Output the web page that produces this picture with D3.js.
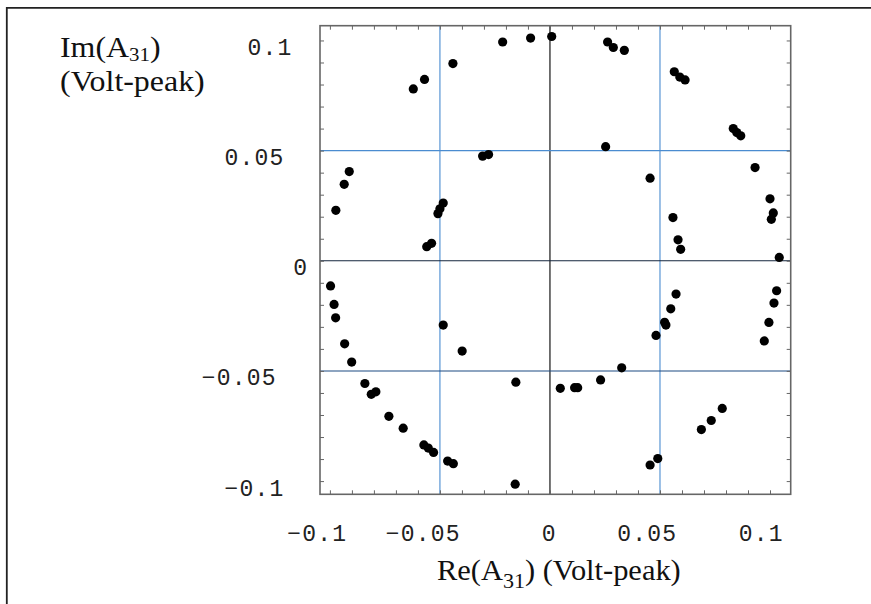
<!DOCTYPE html>
<html>
<head>
<meta charset="utf-8">
<script src="https://cdn.jsdelivr.net/npm/d3@7/dist/d3.min.js"></script>
<style>
  html, body { margin: 0; padding: 0; background: #fff; }
  svg { display: block; }
</style>
</head>
<body>
<script>
// ---------------- data ----------------
const reValues = [
  -0.0621, -0.0570, -0.0441, -0.0215, -0.0088, 0.0008, 0.0262, 0.0288, 0.0338,
  0.0565, 0.0590, 0.0614, 0.0833, 0.0849, 0.0867, 0.0253, 0.0932, 0.0455, 0.1000,
  -0.0912, -0.0935, -0.0306, -0.0279, -0.0973, -0.0485, -0.0500, -0.0509, -0.0560,
  -0.0538, 0.0559, 0.0582, 0.0594, 0.1015, 0.1006, 0.1042, -0.0997, -0.0981, -0.0974,
  -0.0933, -0.0901, -0.0485, -0.0399, 0.0573, 0.0549, 0.0521, 0.0527, 0.0482, 0.0326,
  0.1030, 0.1018, 0.0995, 0.0974, -0.0841, -0.0812, -0.0791, -0.0732, -0.0667, -0.0573,
  -0.0553, -0.0529, -0.0465, -0.0439, -0.0155, -0.0158, 0.0047, 0.0112, 0.0126, 0.0230,
  0.0455, 0.0490, 0.0688, 0.0733, 0.0783
];
const imValues = [
  0.0780, 0.0823, 0.0895, 0.0993, 0.1011, 0.1018, 0.0993, 0.0968, 0.0955,
  0.0858, 0.0834, 0.0821, 0.0600, 0.0582, 0.0567, 0.0518, 0.0423, 0.0375, 0.0281,
  0.0405, 0.0347, 0.0475, 0.0482, 0.0229, 0.0262, 0.0236, 0.0214, 0.0064,
  0.0079, 0.0196, 0.0095, 0.0052, 0.0217, 0.0188, 0.0015, -0.0114, -0.0198, -0.0259,
  -0.0377, -0.0460, -0.0292, -0.0410, -0.0151, -0.0218, -0.0279, -0.0292, -0.0339, -0.0486,
  -0.0136, -0.0192, -0.0280, -0.0364, -0.0557, -0.0606, -0.0595, -0.0706, -0.0760, -0.0836,
  -0.0850, -0.0870, -0.0909, -0.0921, -0.0551, -0.1014, -0.0579, -0.0576, -0.0576, -0.0541,
  -0.0927, -0.0898, -0.0766, -0.0725, -0.0670
];
const xExtent = [-0.1045, 0.1094];
const yExtent = [-0.1060, 0.1067];
const majorTicks = [-0.1, -0.05, 0, 0.05, 0.1];
const xTickLabels = ["−0.1", "−0.05", "0", "0.05", "0.1"];
const yTickLabels = ["−0.1", "−0.05", "0", "0.05", "0.1"];
const minorTicks = d3.range(-10, 11).map(i => i / 100);
const gridLines = [
  { axis: "x", value: -0.05, color: "#4a8cd0" },
  { axis: "x", value: 0.05, color: "#4a8cd0" },
  { axis: "x", value: 0, color: "#000000" },
  { axis: "y", value: 0.05, color: "#4a8cd0" },
  { axis: "y", value: 0, color: "#14263e" },
  { axis: "y", value: -0.05, color: "#1d4a82" }
];
const xTitle = { main: "Re(A", sub: "31", rest: ") (Volt-peak)" };
const yTitle = { main: "Im(A", sub: "31", rest: ")", line2: "(Volt-peak)" };

// ---------------- layout ----------------
const W = 871, H = 604;
const plot = { left: 320, right: 790.7, top: 25.7, bottom: 494.3 };

const svg = d3.select("body").append("svg")
  .attr("width", W).attr("height", H);

// outer frame (top and left edges visible)
svg.append("path")
  .attr("d", `M6.8,${H} L6.8,7.8 L${W},7.8`)
  .attr("fill", "none").attr("stroke", "#222").attr("stroke-width", 1.8);

const x = d3.scaleLinear().domain(xExtent).range([plot.left, plot.right]);
const y = d3.scaleLinear().domain(yExtent).range([plot.bottom, plot.top]);

// grid lines
const g = svg.append("g");
gridLines.forEach(d => {
  if (d.axis === "x") {
    g.append("line").attr("x1", x(d.value)).attr("x2", x(d.value))
      .attr("y1", plot.top).attr("y2", plot.bottom)
      .attr("stroke", d.color).attr("stroke-width", 1.1);
  } else {
    g.append("line").attr("y1", y(d.value)).attr("y2", y(d.value))
      .attr("x1", plot.left).attr("x2", plot.right)
      .attr("stroke", d.color).attr("stroke-width", 1.1);
  }
});

// tick marks on all four sides (inward)
const tickLen = 4;
function styleAxis(sel) {
  sel.select(".domain").remove();
  sel.selectAll(".tick line").attr("stroke", "#666").attr("stroke-width", 1);
  sel.selectAll(".tick text").remove();
}
svg.append("g").attr("transform", `translate(0,${plot.bottom})`)
  .call(d3.axisBottom(x).tickValues(minorTicks).tickSize(-tickLen).tickFormat(""))
  .call(styleAxis);
svg.append("g").attr("transform", `translate(0,${plot.top})`)
  .call(d3.axisTop(x).tickValues(minorTicks).tickSize(-tickLen).tickFormat(""))
  .call(styleAxis);
svg.append("g").attr("transform", `translate(${plot.left},0)`)
  .call(d3.axisLeft(y).tickValues(minorTicks).tickSize(-tickLen).tickFormat(""))
  .call(styleAxis);
svg.append("g").attr("transform", `translate(${plot.right},0)`)
  .call(d3.axisRight(y).tickValues(minorTicks).tickSize(-tickLen).tickFormat(""))
  .call(styleAxis);

// plot frame
svg.append("rect")
  .attr("x", plot.left).attr("y", plot.top)
  .attr("width", plot.right - plot.left).attr("height", plot.bottom - plot.top)
  .attr("fill", "none").attr("stroke", "#666").attr("stroke-width", 1.6);

// points
svg.append("g").selectAll("circle")
  .data(reValues.map((v, i) => [v, imValues[i]]))
  .join("circle")
  .attr("cx", d => x(d[0]))
  .attr("cy", d => y(d[1]))
  .attr("r", 4.6)
  .attr("fill", "#000");

// tick labels (monospace, Mathematica-style offsets)
const monoFont = "'Liberation Mono', 'DejaVu Sans Mono', monospace";
svg.append("g").selectAll("text")
  .data(majorTicks)
  .join("text")
  .attr("x", (d, i) => x(d) + 3.3 - 11.5 * xTickLabels[i].length)
  .attr("y", plot.bottom + 47)
  .attr("font-family", monoFont)
  .attr("font-size", 23)
  .attr("letter-spacing", 1.2)
  .attr("fill", "#222")
  .text((d, i) => xTickLabels[i]);

svg.append("g").selectAll("text")
  .data(majorTicks)
  .join("text")
  .attr("x", (d, i) => 316.2 - 22.9 * yTickLabels[i].length)
  .attr("y", d => y(d) + 14.5)
  .attr("font-family", monoFont)
  .attr("font-size", 23)
  .attr("letter-spacing", 1.2)
  .attr("fill", "#222")
  .text((d, i) => yTickLabels[i]);

// axis titles
const serif = "'Liberation Serif', 'Times New Roman', serif";
const yt = svg.append("text")
  .attr("font-family", serif).attr("font-size", 29).attr("fill", "#111")
  .attr("transform", "translate(60,56.5) scale(1.1,1)");
yt.append("tspan").text(yTitle.main);
yt.append("tspan").attr("font-size", 19).attr("dy", 4).text(yTitle.sub);
yt.append("tspan").attr("dy", -4).text(yTitle.rest);
svg.append("text")
  .attr("font-family", serif).attr("font-size", 28.5).attr("fill", "#111")
  .attr("transform", "translate(60,91) scale(1.12,1)")
  .text(yTitle.line2);

const xt = svg.append("text")
  .attr("font-family", serif).attr("font-size", 29).attr("fill", "#111")
  .attr("transform", "translate(437,580) scale(1.05,1)");
xt.append("tspan").text(xTitle.main);
xt.append("tspan").attr("font-size", 21).attr("dy", 8).text(xTitle.sub);
xt.append("tspan").attr("dy", -8).text(xTitle.rest);
</script>
</body>
</html>
